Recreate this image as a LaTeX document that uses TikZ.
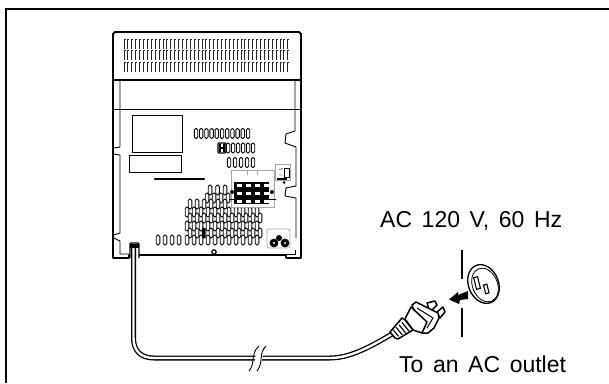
\documentclass[tikz,border=0pt]{standalone}
\usepackage{fontspec}
\setmainfont{Liberation Sans}[WordSpace=1.5]
\usetikzlibrary{calc}
\tikzset{
  case/.style={line width=0.9pt, line join=round},
  casethick/.style={line width=1.9pt, line join=round},
  slat/.style={line width=1pt, color=black!85},
  slot/.style={draw, line width=0.9pt, fill=white, rounded corners=1.5pt},
  thin gray/.style={draw=black!35, line width=0.7pt},
  plugpart/.style={draw, line width=1.5pt, fill=white, line join=round},
  caption/.style={anchor=base west, inner sep=0pt, font=\fontsize{23}{23}\selectfont}
}
\begin{document}
\begin{tikzpicture}[x=1pt, y=-1pt]
        \useasboundingbox (0, 0) rectangle (609, 383);

        % frame
        \draw[line width=2.2pt] (6, 383) -- (6, 9) -- (609, 9);

        % case
        \draw[casethick] (129, 255) -- (129, 258) -- (113, 258) -- (113, 34) -- (115, 32) -- (299, 32)
                -- (301, 34) -- (301, 258) -- (286, 258) -- (286, 255) -- cycle;
        \draw[casethick] (113, 80) -- (301, 80);
        \draw[case] (113, 109) -- (301, 109);
        \draw[case] (120, 80) -- (120, 147) -- (114, 148);
        \draw[case] (114, 154) -- (120, 155) -- (120, 233) -- (114, 235);
        \draw[case] (295, 80) -- (295, 131) -- (286, 134) -- (285, 143) -- (296, 147) -- (296, 186)
                -- (286, 188) -- (285, 196) -- (296, 198) -- (296, 238);
        \draw[case] (114, 238) -- (120, 241) -- (120, 254) -- (129, 254);
        \draw[case] (286, 254) -- (295, 254) -- (295, 250);

        % vents
        \foreach \y in {39, 50, 62}
          \foreach \x in {124, 127.9, ..., 291}
            \draw[slat] (\x + 1.5, \y) -- (\x, \y) -- (\x, \y + 10);

        % panels
        \draw[case] (132, 115) rectangle (182, 152);
        \draw[case] (129, 155) rectangle (181, 172);
        \draw[line width=2.4pt, line cap=round] (155, 179) -- (204, 179);

        % upper slots
        \foreach \x in {196, 201.2, ..., 253}
          \draw[slot] (\x - 1.7, 128.5) rectangle ++(3.4, 10);
        \foreach \x in {228, 233, ..., 253}
          \draw[slot] (\x - 1.7, 143) rectangle ++(3.4, 10);
        \foreach \x in {229, 235, ..., 253}
          \draw[slot] (\x - 1.7, 157.5) rectangle ++(3.4, 10);
        \draw[line width=1.2pt, rounded corners=1pt] (218, 143) rectangle (226, 153);
        \draw[line width=1.2pt] (220, 144) -- (220, 152) (224, 144) -- (224, 152) (220, 148) -- (224, 148);

        % lower grille
        \foreach \y/\a/\b/\c in {190/210/217.5/225, 198/207/214/228, 204/190/197/225, 212/187/194/258,
                218/190/197/261, 226/187/194/258, 233/190/197/261, 240/187/194/258}
          \foreach \x in {\a, \b, ..., \c}
            \draw[slot] (\x - 1.8, \y - 5) rectangle ++(3.6, 10);
        \foreach \x in {158, 165, 172, 179}
          \draw[slot] (\x - 1.8, 235) rectangle ++(3.6, 10);
        \fill (202, 228) rectangle (205, 238);

        % terminals
        \draw[thin gray, fill=white] (231, 170) rectangle (274, 207);
        \draw[thin gray] (247, 170) -- (247, 175) (257, 170) -- (257, 175);
        \fill (234, 182) rectangle (269, 204);
        \foreach \y in {184, 192, 199.5}
          \foreach \x in {237, 246, 255, 264}
            \fill[white] (\x, \y) rectangle ++(4.5, 3);
        \fill (232, 192) circle (2);
        \fill (272, 192) circle (2);
        \draw (229, 199) -- (234, 199) (269, 199) -- (276, 199);

        % switch
        \draw[thin gray] (275, 164) rectangle (290, 180);
        \draw[line width=0.9pt] (284, 168) rectangle (289, 177);
        \draw (279, 170) -- (283, 168) (279, 175) -- (283, 175);
        \fill (277, 177.5) rectangle (287, 179.5);
        \fill (284, 182.5) circle (1.5);

        % speaker jacks
        \draw[thin gray, rounded corners=2pt] (267, 229) rectangle (290, 248);
        \fill (274, 243) circle (4.4);
        \fill (285, 243) circle (4.4);
        \fill (279, 238) circle (3);
        \fill[white] (274, 243) circle (1.2);
        \fill[white] (285, 243) circle (1.2);

        % screw
        \draw[line width=1.2pt, fill=white] (214, 252) circle (2.2);

        % inlet
        \draw[line width=1.4pt, fill=white, rounded corners=1pt] (130, 258) -- (130, 243) -- (139, 243) -- (139, 258);
        \fill (130, 244) rectangle (139, 248);

        % cord
        \draw[line width=5pt, line cap=butt] (133.5, 244) -- (133.5, 338) .. controls (133.5, 351) and (141, 358) .. (154, 358)
                -- (330, 358) .. controls (350, 358) and (370, 347) .. (392, 334);
        \draw[line width=2.4pt, color=white, line cap=butt] (133.5, 248) -- (133.5, 338) .. controls (133.5, 351) and (141, 358) .. (154, 358)
                -- (330, 358) .. controls (350, 358) and (370, 347) .. (392, 334);

        % cord break
        \fill[white] (251, 371) .. controls (258, 362) and (252, 354) .. (261, 346) -- (268, 346)
                .. controls (259, 354) and (265, 362) .. (258, 371) -- cycle;
        \draw[line width=0.9pt] (249, 371) .. controls (256, 362) and (250, 354) .. (259, 346);
        \draw[line width=0.9pt] (257, 371) .. controls (264, 362) and (258, 354) .. (266, 346);

        % plug
        \draw[plugpart] (427, 303) -- (435, 301) -- (437, 305) -- (430, 312) -- cycle;
        \draw[plugpart] (437, 312) -- (443, 307) -- (445, 312) -- (440, 318) -- cycle;
        \draw[plugpart] (412, 305) -- (416, 302) -- (438, 313) -- (439, 318) -- (434, 328) -- (428, 333) -- (422, 333) -- cycle;
        \draw[line width=1pt] (417, 308) -- (433, 318) -- (427, 328);
        \draw[plugpart] (405, 319) -- (411, 307) -- (427, 322) -- (422, 333) -- (413, 330) -- cycle;
        \draw[plugpart] (390, 332) -- (402, 318) -- (405, 320) -- (413, 330) -- (398, 339) -- (395, 338) -- cycle;
        \foreach \t in {0.2, 0.4, 0.6, 0.8}
          \draw[line width=1.1pt] ($(390, 332)!\t!(405, 320)$) -- ($(395, 338)!\t!(413, 330)$);

        % arrow
        \fill (449, 299.5) -- (458, 292) -- (458, 295) -- (468, 291) -- (468, 299) -- (460, 300) -- (459, 304) -- cycle;

        % wall
        \draw[line width=1.7pt] (462, 250) -- (462, 279);
        \draw[line width=1.7pt] (462, 308) -- (462, 337);

        % outlet
        \draw[line width=1.3pt, fill=white, rotate around={22:(483.5, 284)}] (483.5, 284) ellipse (15 and 20);
        \draw[line width=0.8pt, rotate around={22:(485, 285)}] (485, 285) ellipse (12.5 and 17.5);
        \draw[line width=1.1pt, rotate around={14:(477, 283)}] (475, 277) rectangle (479, 289);
        \draw[line width=1.1pt, rotate around={14:(486, 289)}] (484.5, 284.5) rectangle (488, 293.5);

        \node[caption] (mains) at (380, 227) {AC 120 V, 60 Hz};
        \node[caption] (outlet) at (399, 372) {To an AC outlet};

      \end{tikzpicture}
\end{document}
